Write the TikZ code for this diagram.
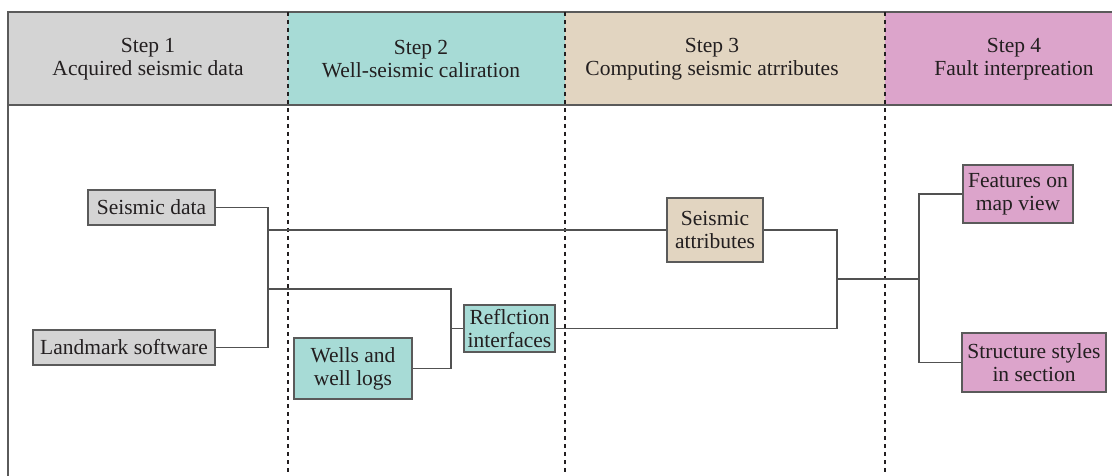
\documentclass[tikz,border=0pt]{standalone}
\usepackage{fontspec}
\setmainfont{Liberation Serif}
\definecolor{cgray}{HTML}{D4D4D4}
\definecolor{cteal}{HTML}{A7DBD6}
\definecolor{ctan}{HTML}{E2D5C1}
\definecolor{cpink}{HTML}{DCA4CB}
\definecolor{edge}{HTML}{5A5A5A}
\definecolor{ink}{HTML}{231F20}
\begin{document}
\begin{tikzpicture}[x=1pt,y=-1pt,
  every node/.style={font=\fontsize{21.5}{23}\selectfont, text=ink},
  box/.style={draw=edge, line width=1.2pt, align=center, inner sep=1pt},
  conn/.style={draw=edge!90!black, line width=1.3pt},
  divider/.style={draw=ink, line width=1.8pt, dash pattern=on 4pt off 4pt},
  hdr/.style={align=center}]
\useasboundingbox (0,0) rectangle (1112,476);
% header bands
\fill[cgray] (8,12) rectangle (288,105);
\fill[cteal] (288,12) rectangle (565,105);
\fill[ctan] (565,12) rectangle (885,105);
\fill[cpink] (885,12) rectangle (1112,105);
\draw[edge, line width=1.5pt] (1112,12) -- (8,12) -- (8,476);
\draw[edge, line width=1.5pt] (8,105) -- (1112,105);
% dividers
\draw[divider] (288,12) -- (288,476);
\draw[divider] (565,12) -- (565,476);
\draw[divider] (885,12) -- (885,476);
% header texts
\node[hdr] (h1) at (148,59.5) {Step 1\\Acquired seismic data};
\node[hdr] (h2) at (421,59.5) {Step 2\\Well-seismic caliration};
\node[hdr] (h3) at (712,59.5) {Step 3\\Computing seismic atrributes};
\node[hdr] (h4) at (1014,59.5) {Step 4\\Fault interpreation};
% nodes
\node[box, fill=cgray, minimum width=127pt, minimum height=35pt] (sd) at (151.5,207.5) {Seismic data};
\node[box, fill=cgray, minimum width=182pt, minimum height=35pt] (lm) at (124,347.5) {Landmark software};
\node[box, fill=cteal, minimum width=118pt, minimum height=61pt] (wl) at (353,368.5) {Wells and\\well logs};
\node[box, fill=cteal, minimum width=91pt, minimum height=47pt] (rf) at (509.5,328.5) {Reflction\\interfaces};
\node[box, fill=ctan, minimum width=96pt, minimum height=64pt] (sa) at (715,230) {Seismic\\attributes};
\node[box, fill=cpink, minimum width=110pt, minimum height=58pt] (fm) at (1018,194) {Features on\\map view};
\node[box, fill=cpink, minimum width=144pt, minimum height=59pt] (ss) at (1034,362.5) {Structure styles\\in section};
% junction coordinates
\coordinate (j1) at (268,280);
\coordinate (a2) at (268,289);
\coordinate (k2) at (451,330);
\coordinate (j3) at (837,279);
\coordinate (j4) at (919,279);
% connectors
\draw[conn] (sd.east) -| (j1) |- (lm.east);
\draw[conn] (sa.west) -- (sa.west -| j1);
\draw[conn] (a2) -| (k2) |- (wl.east);
\draw[conn] (rf.west) -- (rf.west -| k2);
\draw[conn] (rf.east) -| (j3) |- (sa.east);
\draw[conn] (j3) -- (j4);
\draw[conn] (fm.west) -| (j4) |- (ss.west);
\end{tikzpicture}
\end{document}
